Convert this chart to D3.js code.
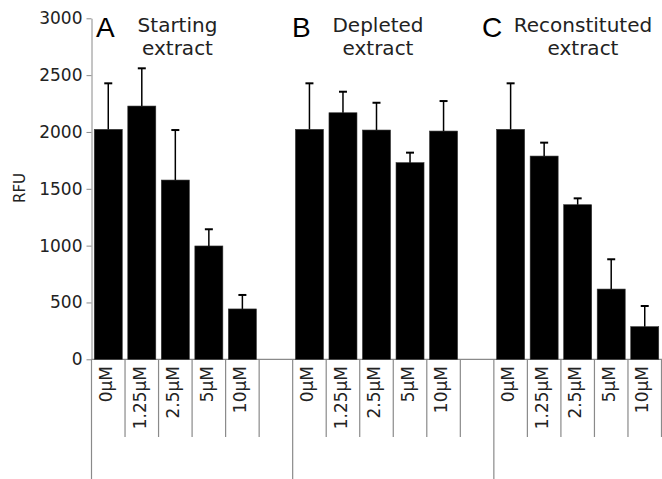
<!DOCTYPE html>
<html>
<head>
<meta charset="utf-8">
<script src="https://cdn.jsdelivr.net/npm/d3@7"></script>
<style>
  body { margin: 0; background: #fff; }
  svg { display: block; }
</style>
</head>
<body>
<div id="chart"></div>
<script>
const concentrations = ["0µM", "1.25µM", "2.5µM", "5µM", "10µM"]
const panels = ["A", "B", "C"]
const titles = [["Starting", "extract"], ["Depleted", "extract"], ["Reconstituted", "extract"]]
const startingMean = [2023, 2228, 1577, 997, 443]
const startingSd = [405, 332, 440, 147, 123]
const depletedMean = [2023, 2169, 2017, 1730, 2008]
const depletedSd = [405, 185, 240, 88, 264]
const reconMean = [2023, 1788, 1360, 618, 287]
const reconSd = [405, 118, 56, 262, 182]
const yTicks = [0, 500, 1000, 1500, 2000, 2500, 3000]

const means = [startingMean, depletedMean, reconMean]
const sds = [startingSd, depletedSd, reconSd]

const width = 662, height = 479
const margin = {left: 91.5, right: 0.5, top: 18.3, baseline: 359.3}

// one slot per bar plus an empty slot after each panel except the last
let slots = []
let rows = []
panels.forEach((p, i) => {
    concentrations.forEach((c, j) => {
        slots.push(p + "-" + c)
        rows.push({panel: p, conc: c, mean: means[i][j], sd: sds[i][j], key: p + "-" + c})
    })
    if (i < panels.length - 1) slots.push(p + "-gap")
})

const x = d3.scaleBand().domain(slots).range([margin.left, width - margin.right]).padding(0)
const y = d3.scaleLinear().domain([0, 3000]).range([margin.baseline, margin.top])
const barW = x.bandwidth() * 0.835
const grey = "#8a8a8a"

const svg = d3.select("#chart").append("svg")
    .attr("width", width)
    .attr("height", height)

// y axis
const yAxis = svg.append("g")
    .attr("transform", `translate(${margin.left},0)`)
    .call(d3.axisLeft(y).tickValues(yTicks).tickFormat(d3.format("d")).tickSize(5).tickPadding(4).tickSizeOuter(0))
yAxis.select(".domain").attr("stroke", grey)
yAxis.selectAll(".tick line").attr("stroke", grey)
yAxis.selectAll(".tick text")
    .attr("font-family", "DejaVu Sans, Verdana, sans-serif")
    .attr("font-size", 17)
    .attr("fill", "#222")

svg.append("text")
    .attr("transform", `translate(25,188) rotate(-90)`)
    .attr("text-anchor", "middle")
    .attr("font-family", "DejaVu Sans, Verdana, sans-serif")
    .attr("font-size", 15)
    .attr("fill", "#222")
    .text("RFU")

// baseline
svg.append("line")
    .attr("x1", margin.left).attr("x2", width)
    .attr("y1", y(0)).attr("y2", y(0))
    .attr("stroke", grey).attr("stroke-width", 1.2)

// separators under the axis
const bounds = slots.map(s => x(s)).concat([x(slots[slots.length - 1]) + x.bandwidth()])
const groupStarts = panels.map(p => x(p + "-" + concentrations[0]))
svg.append("g")
    .selectAll("line")
    .data(bounds)
    .join("line")
    .attr("x1", d => d).attr("x2", d => d)
    .attr("y1", y(0))
    .attr("y2", d => groupStarts.some(g => Math.abs(g - d) < 0.5) ? height : 437)
    .attr("stroke", grey)
    .attr("stroke-width", 1.2)

// bars
svg.append("g")
    .selectAll("rect")
    .data(rows)
    .join("rect")
    .attr("x", d => x(d.key) + (x.bandwidth() - barW) / 2)
    .attr("width", barW)
    .attr("y", d => y(d.mean))
    .attr("height", d => y(0) - y(d.mean))
    .attr("fill", "#000")
    .attr("stroke", "#333")
    .attr("stroke-width", 0.6)

// error bars
const err = svg.append("g").attr("stroke", "#000")
err.selectAll("line.stem")
    .data(rows)
    .join("line")
    .attr("class", "stem")
    .attr("x1", d => x(d.key) + x.bandwidth() / 2)
    .attr("x2", d => x(d.key) + x.bandwidth() / 2)
    .attr("y1", d => y(d.mean))
    .attr("y2", d => y(d.mean + d.sd))
    .attr("stroke-width", 1.5)
err.selectAll("line.cap")
    .data(rows)
    .join("line")
    .attr("class", "cap")
    .attr("x1", d => x(d.key) + x.bandwidth() / 2 - 4)
    .attr("x2", d => x(d.key) + x.bandwidth() / 2 + 4)
    .attr("y1", d => y(d.mean + d.sd))
    .attr("y2", d => y(d.mean + d.sd))
    .attr("stroke-width", 2)

// concentration labels
svg.append("g")
    .selectAll("text")
    .data(rows)
    .join("text")
    .attr("transform", d => `translate(${x(d.key) + x.bandwidth() / 2},366) rotate(-90)`)
    .attr("dy", "0.22em")
    .attr("text-anchor", "end")
    .attr("font-family", "DejaVu Sans, Verdana, sans-serif")
    .attr("font-size", 17)
    .attr("fill", "#222")
    .text(d => d.conc)

// panel letters and titles
const letterX = [96, 292, 482]
const titleX = [177.5, 378, 583]
panels.forEach((p, i) => {
    svg.append("text")
        .attr("x", letterX[i]).attr("y", 37)
        .attr("font-family", "Liberation Sans, Arial, sans-serif")
        .attr("font-size", 28)
        .attr("fill", "#000")
        .text(p)
    svg.append("text")
        .attr("text-anchor", "middle")
        .attr("font-family", "DejaVu Sans, Verdana, sans-serif")
        .attr("font-size", 20)
        .attr("fill", "#222")
        .selectAll("tspan")
        .data(titles[i])
        .join("tspan")
        .attr("x", titleX[i])
        .attr("y", (d, k) => 32 + k * 23)
        .text(d => d)
})
</script>
</body>
</html>
